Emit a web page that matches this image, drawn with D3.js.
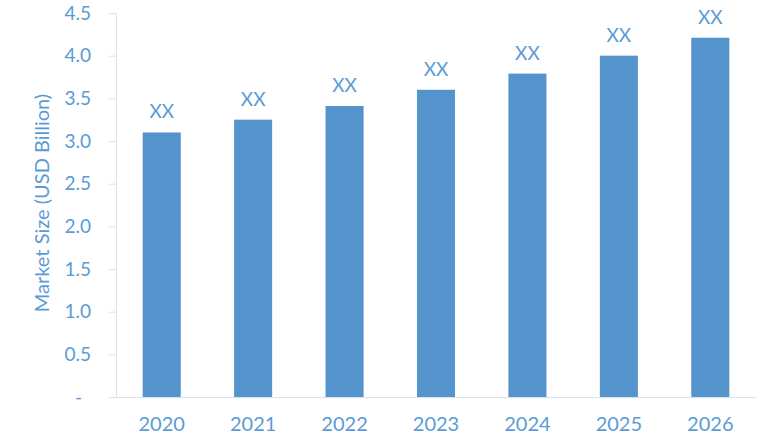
<!DOCTYPE html>
<html lang="en">
<head>
    <meta charset="UTF-8">
    <title>Market Size</title>
    <script src="https://d3js.org/d3.v7.min.js"></script>
    <style>
        body { margin: 0; background: #fff; }
        text { font-family: Lato, "Open Sans", sans-serif; fill: #5b9bd5; }
        .axis path, .axis line { stroke: #d9e2ef; }
        .bar { fill: #5593cc; }
    </style>
</head>
<body>
    <svg id="chart" width="780" height="440"></svg>
    <script>
        var years = ["2020", "2021", "2022", "2023", "2024", "2025", "2026"];
        var marketSize = [3.10, 3.25, 3.41, 3.60, 3.79, 4.00, 4.21];
        var barLabels = ["XX", "XX", "XX", "XX", "XX", "XX", "XX"];
        var yTicks = [0, 0.5, 1.0, 1.5, 2.0, 2.5, 3.0, 3.5, 4.0, 4.5];

        var data = years.map(function(y, i) {
            return { year: y, value: marketSize[i], label: barLabels[i] };
        });

        var svg = d3.select("#chart");

        var x = d3.scaleBand()
            .domain(years)
            .range([116, 756])
            .paddingInner(0.584)
            .paddingOuter(0.292);

        var y = d3.scaleLinear()
            .domain([0, 4.5])
            .range([397, 13]);

        // y axis
        var yAxis = svg.append("g")
            .attr("class", "axis")
            .attr("transform", "translate(116,0)")
            .call(d3.axisLeft(y)
                .tickValues(yTicks)
                .tickSize(7)
                .tickPadding(18)
                .tickFormat(function(d) { return d === 0 ? "-" : d3.format(".1f")(d); }));
        yAxis.selectAll("text")
            .style("font-size", "19px")
            .attr("dx", function(d) { return d === 0 ? "-9px" : 0; });
        yAxis.select(".domain").attr("d", "M0.5,13V397.5");

        // x axis
        var xAxis = svg.append("g")
            .attr("class", "axis")
            .attr("transform", "translate(0,397)")
            .call(d3.axisBottom(x).tickSize(0).tickPadding(20));
        xAxis.selectAll("text").style("font-size", "20px");
        xAxis.select(".domain").attr("d", "M116,0.5H756");

        // bars
        svg.selectAll(".bar")
            .data(data)
            .enter().append("rect")
            .attr("class", "bar")
            .attr("x", d => x(d.year))
            .attr("width", x.bandwidth())
            .attr("y", d => y(d.value))
            .attr("height", d => y(0) - y(d.value));

        svg.selectAll(".bar-label")
            .data(data)
            .enter().append("text")
            .attr("class", "bar-label")
            .attr("x", d => x(d.year) + x.bandwidth() / 2)
            .attr("y", d => y(d.value) - 14)
            .attr("text-anchor", "middle")
            .style("font-size", "19px")
            .text(d => d.label);

        // axis title
        svg.append("text")
            .attr("transform", "translate(49,203) rotate(-90)")
            .attr("text-anchor", "middle")
            .style("font-size", "20px")
            .text("Market Size (USD Billion)");
    </script>
</body>
</html>
